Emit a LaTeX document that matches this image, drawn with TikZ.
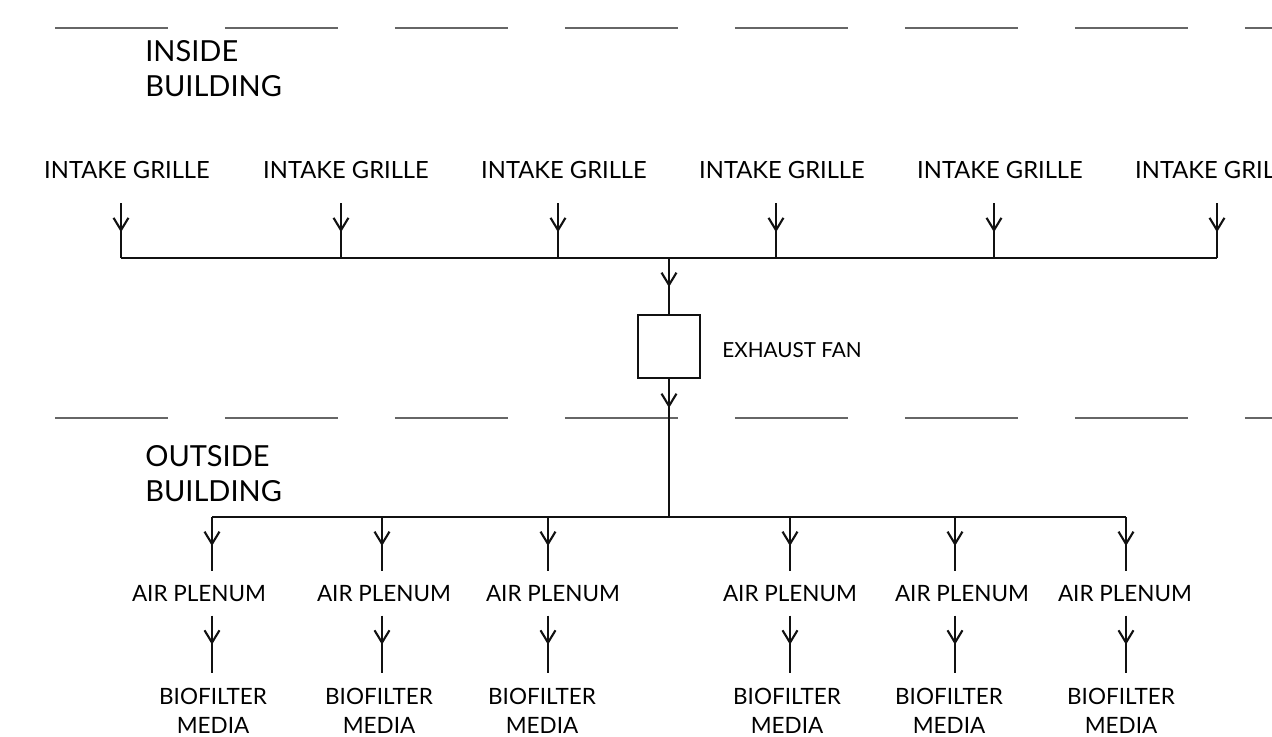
\documentclass[tikz,border=0pt]{standalone}
\usepackage{fontspec}
\setmainfont{Lato}
\usepackage{xcolor}
\usepackage{tikz}
\usetikzlibrary{arrows.meta,positioning,calc,decorations.markings}
\definecolor{ductblack}{HTML}{111111}
\definecolor{wallgray}{HTML}{666666}

\begin{document}
\begin{tikzpicture}[
  x=0.02cm,y=-0.02cm,
  font=\fontsize{13.5}{16.5}\selectfont,
  grille/.style={inner sep=0pt,outer sep=0.49cm},
  plenum/.style={inner sep=0pt,outer sep=0.28cm,font=\fontsize{12.8}{15.5}\selectfont},
  media/.style={inner sep=0pt,outer sep=0.3cm,align=center,anchor=north,font=\fontsize{12.8}{16.4}\selectfont},
  zone/.style={inner sep=0pt,align=left,anchor=north west,font=\fontsize{16.5}{19.8}\selectfont},
  wall/.style={draw=wallgray,line width=1.1pt,dash pattern=on 2.26cm off 1.14cm},
  duct/.style={draw=ductblack,line width=1.2pt},
  flow/.style={duct,postaction={decorate},
    decoration={markings,mark=at position 0.58cm with {\arrow{Straight Barb[length=7pt,width=8.5pt,line width=1.2pt]}}}}
]
\useasboundingbox (0,0) rectangle (1272,737);
% building walls
\draw[wall] (55,28) -- (1272,28);
\draw[wall] (55,418) -- (1272,418);
\node[zone] (inside) at (145,40) {INSIDE\\BUILDING};
\node[zone] (outside) at (145,445) {OUTSIDE\\BUILDING};
% intake side
\coordinate (j1) at (121,258);
\coordinate (j2) at (341,258);
\coordinate (j3) at (558,258);
\coordinate (j4) at (776,258);
\coordinate (j5) at (994,258);
\coordinate (j6) at (1217,258);
\coordinate (fj) at (669,258);
\node[grille] (g1) at (127,170) {INTAKE GRILLE};
\node[grille] (g2) at (346,170) {INTAKE GRILLE};
\node[grille] (g3) at (564,170) {INTAKE GRILLE};
\node[grille] (g4) at (782,170) {INTAKE GRILLE};
\node[grille] (g5) at (1000,170) {INTAKE GRILLE};
\node[grille] (g6) at (1218,170) {INTAKE GRILLE};
\draw[flow] (g1.south -| j1) -- (j1);
\draw[flow] (g2.south -| j2) -- (j2);
\draw[flow] (g3.south -| j3) -- (j3);
\draw[flow] (g4.south -| j4) -- (j4);
\draw[flow] (g5.south -| j5) -- (j5);
\draw[flow] (g6.south -| j6) -- (j6);
\draw[duct] (j1) -- (j6);
% fan
\node[draw=ductblack,line width=1.2pt,minimum width=1.24cm,minimum height=1.26cm,inner sep=0pt] (fan) at (669,346.5) {};
\node[anchor=west,inner sep=0pt,font=\fontsize{11.8}{13}\selectfont] (fanlbl) at (722,350) {EXHAUST FAN};
\draw[flow] (fj) -- (fan.north);
\coordinate (pj) at (669,517);
\draw[flow] (fan.south) -- (pj);
% outside distribution
\coordinate (p1) at (212,517);
\coordinate (p2) at (382,517);
\coordinate (p3) at (548,517);
\coordinate (p4) at (790,517);
\coordinate (p5) at (955,517);
\coordinate (p6) at (1126,517);
\draw[duct] (p1) -- (p6);
\node[plenum] (a1) at (199,593.5) {AIR PLENUM};
\node[plenum] (a2) at (384,593.5) {AIR PLENUM};
\node[plenum] (a3) at (553,593.5) {AIR PLENUM};
\node[plenum] (a4) at (790,593.5) {AIR PLENUM};
\node[plenum] (a5) at (962,593.5) {AIR PLENUM};
\node[plenum] (a6) at (1125,593.5) {AIR PLENUM};
\node[media] (m1) at (213,673) {BIOFILTER\\MEDIA};
\node[media] (m2) at (379,673) {BIOFILTER\\MEDIA};
\node[media] (m3) at (542,673) {BIOFILTER\\MEDIA};
\node[media] (m4) at (787,673) {BIOFILTER\\MEDIA};
\node[media] (m5) at (949,673) {BIOFILTER\\MEDIA};
\node[media] (m6) at (1121,673) {BIOFILTER\\MEDIA};
\draw[flow] (p1) -- (a1.north -| p1);
\draw[flow] (p2) -- (a2.north -| p2);
\draw[flow] (p3) -- (a3.north -| p3);
\draw[flow] (p4) -- (a4.north -| p4);
\draw[flow] (p5) -- (a5.north -| p5);
\draw[flow] (p6) -- (a6.north -| p6);
\draw[flow] (a1.south -| p1) -- (m1.north -| p1);
\draw[flow] (a2.south -| p2) -- (m2.north -| p2);
\draw[flow] (a3.south -| p3) -- (m3.north -| p3);
\draw[flow] (a4.south -| p4) -- (m4.north -| p4);
\draw[flow] (a5.south -| p5) -- (m5.north -| p5);
\draw[flow] (a6.south -| p6) -- (m6.north -| p6);
\end{tikzpicture}
\end{document}
